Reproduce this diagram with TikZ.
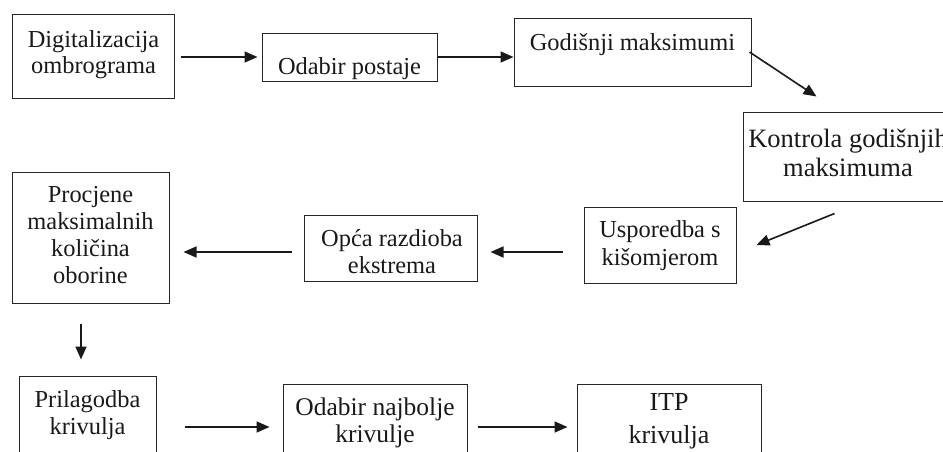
\documentclass[tikz,border=0pt]{standalone}
\usepackage{fontspec}
\setmainfont{Liberation Serif}
\usetikzlibrary{arrows.meta}
\begin{document}
\begin{tikzpicture}[x=1pt,y=-1pt,
  box/.style={draw=black!85, line width=1pt, inner sep=0pt, minimum width=#1},
  txt/.style={inner sep=0pt, align=center, anchor=north, text=black!90,
    font=\fontsize{24.4}{27}\selectfont},
  arr/.style={-{Triangle[length=13pt,width=11pt]}, line width=1.6pt, black!90}]
\useasboundingbox (0,0) rectangle (943,451);
\clip (0,0) rectangle (943,451);
% boxes
\node[box=162pt, minimum height=84pt]  (b1)  at (93,56) {};
\node[box=175pt, minimum height=48pt]  (b2)  at (349.5,57) {};
\node[box=237pt, minimum height=68pt]  (b3)  at (632.5,52) {};
\node[box=210pt, minimum height=89pt]  (b4)  at (848,156.5) {};
\node[box=152pt, minimum height=76pt]  (b5)  at (660,245) {};
\node[box=173pt, minimum height=66pt]  (b6)  at (390.5,248) {};
\node[box=157pt, minimum height=131pt] (b7)  at (90.5,237.5) {};
\node[box=137pt, minimum height=102pt] (b8)  at (87.5,427) {};
\node[box=184pt, minimum height=86pt]  (b9)  at (375,427) {};
\node[box=184pt, minimum height=86pt]  (b10) at (669,427) {};
% texts
\node[txt] (t1)  at (93.5,30.3)  {Digitalizacija\\[-1pt]ombrograma};
\node[txt] (t2)  at (349.5,57.3) {Odabir postaje};
\node[txt] (t3)  at (632.5,33.3) {Godišnji maksimumi};
\node[txt, font=\fontsize{26.5}{29}\selectfont] (t4) at (848,128.9) {Kontrola godišnjih\\maksimuma};
\node[txt] (t5)  at (660,220.3)  {Usporedba s\\[1pt]kišomjerom};
\node[txt] (t6)  at (392,229.3)  {Opća razdioba\\ekstrema};
\node[txt] (t7)  at (90.5,186.3) {Procjene\\maksimalnih\\količina\\oborine};
\node[txt] (t8)  at (87.5,390.3) {Prilagodba\\krivulja};
\node[txt, font=\fontsize{25.5}{27}\selectfont] (t9) at (375,397.6) {Odabir najbolje\\krivulje};
\node[txt, font=\fontsize{26}{33}\selectfont] (t10) at (669,392.8) {ITP\\krivulja};
% connectors
\draw[arr] ([xshift=6pt,yshift=-1pt]b1.east) -- ([xshift=-4pt]b2.west);
\draw[arr] (b2.east) -- (b2.east -| b3.west);
\draw[arr] ([xshift=-2pt]b3.east) -- ([xshift=74pt,yshift=15pt]b4.north west);
\draw[arr] ([xshift=92pt,yshift=-12pt]b4.south west) -- ([xshift=20pt]b5.east);
\draw[arr] ([xshift=-21pt,yshift=-7pt]b5.west) -- ([xshift=13pt,yshift=-4pt]b6.east);
\draw[arr] ([xshift=-12pt,yshift=-4pt]b6.west) -- ([xshift=14pt,yshift=-14.5pt]b7.east);
\draw[arr] ([xshift=-9.5pt,yshift=-20pt]b7.south) -- ([xshift=-6.5pt,yshift=16pt]b8.north);
\draw[arr] ([xshift=28pt]b8.east) -- ([xshift=-13pt]b9.west);
\draw[arr] ([xshift=10pt]b9.east) -- ([xshift=-9pt]b10.west);
\end{tikzpicture}
\end{document}
